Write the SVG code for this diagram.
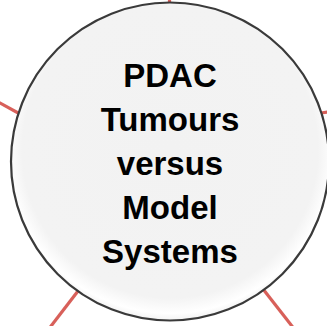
<svg xmlns="http://www.w3.org/2000/svg" width="327" height="326" viewBox="0 0 327 326">
  <defs>
    <radialGradient id="bevel" cx="170" cy="150" r="172" gradientUnits="userSpaceOnUse">
      <stop offset="0" stop-color="#f2f2f2"/>
      <stop offset="0.86" stop-color="#f3f3f3"/>
      <stop offset="0.95" stop-color="#ffffff"/>
      <stop offset="1" stop-color="#f0f0f0"/>
    </radialGradient>
  </defs>
  <style>
    .conn { stroke: #d8605a; stroke-width: 3.2; stroke-linecap: butt; fill: none; }
    .node { fill: url(#bevel); stroke: #3a3a3a; stroke-width: 2.2; }
    .label { font-family: "Liberation Sans", Arial, sans-serif; font-weight: bold; font-size: 33px; fill: #000; text-anchor: middle; }
  </style>
  <rect width="327" height="326" fill="#ffffff"/>
  <g id="connectors">
    <line class="conn" x1="-20" y1="92" x2="20" y2="114"/>
    <line class="conn" x1="169.5" y1="-5" x2="169.5" y2="4"/>
    <line class="conn" x1="321" y1="113" x2="335" y2="111"/>
    <line class="conn" x1="78" y1="291" x2="48" y2="330"/>
    <line class="conn" x1="263" y1="289" x2="295" y2="330"/>
  </g>
  <g id="node-pdac">
    <circle class="node" cx="170" cy="161.5" r="159"/>
    <text class="label" x="170" y="87">PDAC</text>
    <text class="label" x="170" y="131">Tumours</text>
    <text class="label" x="170" y="175">versus</text>
    <text class="label" x="170" y="219">Model</text>
    <text class="label" x="170" y="263">Systems</text>
  </g>
</svg>
